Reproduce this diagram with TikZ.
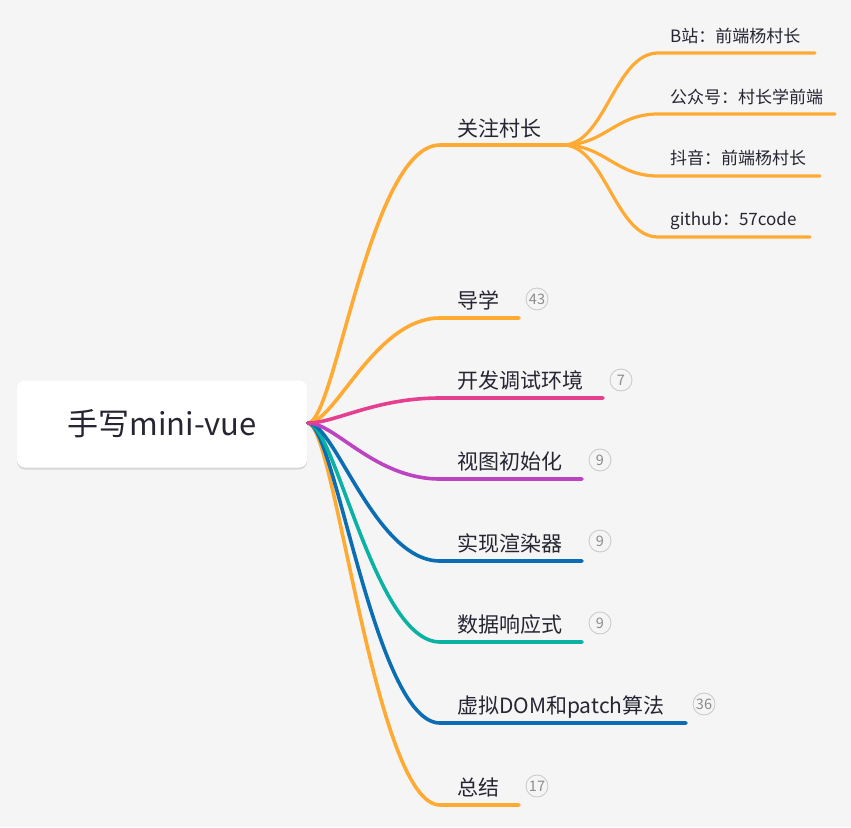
\documentclass[tikz,border=0pt]{standalone}
\usepackage{fontspec}
\setmainfont{Noto Sans CJK SC}
\usetikzlibrary{shadows}
\definecolor{bg}{HTML}{F5F5F5}
\definecolor{corange}{HTML}{FFAA33}
\definecolor{cpink}{HTML}{E4408F}
\definecolor{cpurple}{HTML}{BC44C2}
\definecolor{cblue}{HTML}{0B6DB4}
\definecolor{cteal}{HTML}{0AB2A4}
\definecolor{ctext}{HTML}{262633}
\begin{document}
\begin{tikzpicture}[x=1pt,y=-1pt,
  mainline/.style={line width=3.6pt,line cap=round},
  subline/.style={line width=3.2pt,line cap=round,corange},
  maintext/.style={anchor=base west,inner sep=0pt,font=\fontsize{21}{22}\selectfont,text=ctext},
  subtext/.style={anchor=base west,inner sep=0pt,font=\fontsize{17}{18}\selectfont,text=ctext},
  badge/.style={circle,draw=black!20,line width=0.9pt,minimum size=22pt,inner sep=0pt,text=black!45,font=\fontsize{14.5}{15}\selectfont},
]
\fill[bg] (0,0) rectangle (851,827);
\useasboundingbox (0,0) rectangle (851,827);
% root
\node[draw=none,fill=white,rounded corners=8pt,minimum width=290pt,minimum height=87pt,
  drop shadow={shadow xshift=0pt,shadow yshift=-2pt,opacity=0.12,fill=black},
  font=\fontsize{31}{32}\selectfont,text=ctext] (root) at (162,424) {手写mini-vue};
\coordinate (r) at (308,423);
% main coordinates
\coordinate (a0) at (440,145); \coordinate (a1) at (563,145);
\coordinate (b0) at (440,318); \coordinate (b1) at (519,318);
\coordinate (c0) at (440,398); \coordinate (c1) at (603,398);
\coordinate (d0) at (440,479); \coordinate (d1) at (582,479);
\coordinate (e0) at (440,561); \coordinate (e1) at (582,561);
\coordinate (f0) at (440,642); \coordinate (f1) at (582,642);
\coordinate (g0) at (440,723); \coordinate (g1) at (686,723);
\coordinate (h0) at (440,805); \coordinate (h1) at (519,805);
% sub coordinates
\coordinate (s10) at (658,53);  \coordinate (s11) at (815,53);
\coordinate (s20) at (658,114); \coordinate (s21) at (835,114);
\coordinate (s30) at (658,176); \coordinate (s31) at (820,176);
\coordinate (s40) at (658,237); \coordinate (s41) at (810,237);
% main branches
\draw[mainline,corange] (r) .. controls (335,423) and (370,145) .. (a0) -- (a1);
\draw[mainline,corange] (r) .. controls (335,423) and (375,318) .. (b0) -- (b1);
\draw[mainline,corange] (r) .. controls (335,423) and (375,805) .. (h0) -- (h1);
\draw[mainline,cblue] (r) .. controls (335,423) and (375,723) .. (g0) -- (g1);
\draw[mainline,cteal] (r) .. controls (335,423) and (375,642) .. (f0) -- (f1);
\draw[mainline,cblue] (r) .. controls (335,423) and (375,561) .. (e0) -- (e1);
\draw[mainline,cpurple] (r) .. controls (335,423) and (375,479) .. (d0) -- (d1);
\draw[mainline,cpink] (r) .. controls (335,423) and (375,398) .. (c0) -- (c1);
% sub branches
\draw[subline] (a1) .. controls (605,145) and (615,53) .. (s10) -- (s11);
\draw[subline] (a1) .. controls (605,145) and (615,114) .. (s20) -- (s21);
\draw[subline] (a1) .. controls (605,145) and (615,176) .. (s30) -- (s31);
\draw[subline] (a1) .. controls (605,145) and (615,237) .. (s40) -- (s41);
% texts
\node[maintext] (ta) at (457,136) {关注村长};
\node[maintext] (tb) at (457,308) {导学};
\node[maintext] (tc) at (457,388) {开发调试环境};
\node[maintext] (td) at (457,469) {视图初始化};
\node[maintext] (te) at (457,551) {实现渲染器};
\node[maintext] (tf) at (457,632) {数据响应式};
\node[maintext] (tg) at (457,713) {虚拟DOM和patch算法};
\node[maintext] (th) at (457,795) {总结};
\node[subtext] (u1) at (670,42) {B站：前端杨村长};
\node[subtext] (u2) at (670,103) {公众号：村长学前端};
\node[subtext] (u3) at (670,164) {抖音：前端杨村长};
\node[subtext] (u4) at (670,225) {github：57code};
% badges
\node[badge] (kb) at (537,299) {43};
\node[badge] (kc) at (621,380) {7};
\node[badge] (kd) at (600,460) {9};
\node[badge] (ke) at (600,541) {9};
\node[badge] (kf) at (600,623) {9};
\node[badge] (kg) at (704,704) {36};
\node[badge] (kh) at (537,786) {17};
\end{tikzpicture}
\end{document}
